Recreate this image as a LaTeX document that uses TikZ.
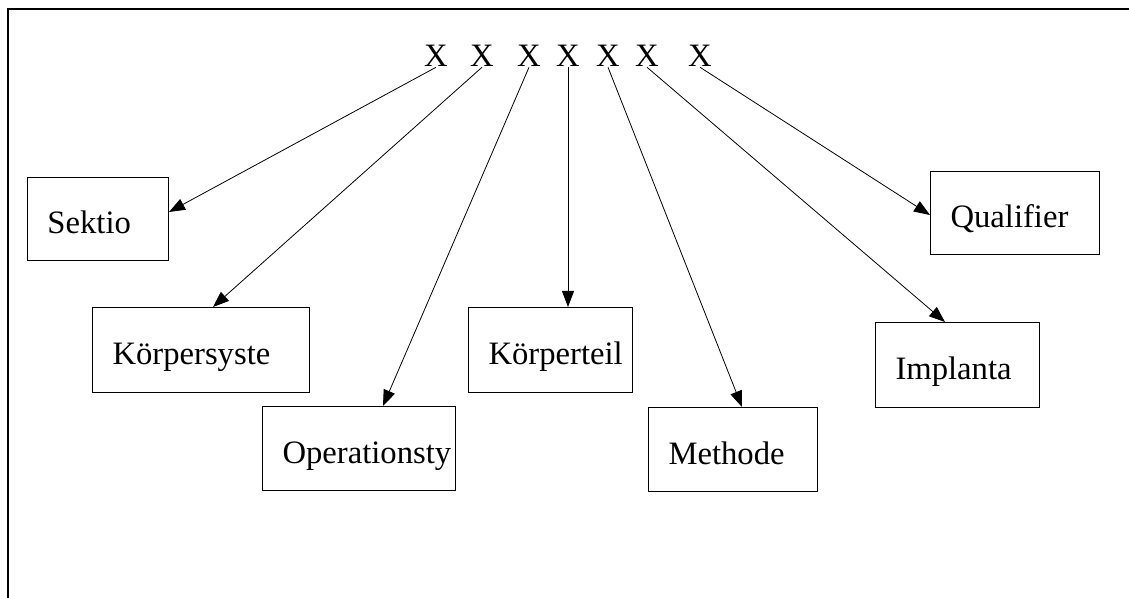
\documentclass[tikz,border=0pt]{standalone}
\usepackage{fontspec}
\setmainfont{Liberation Serif}
\usetikzlibrary{arrows.meta,calc}

\begin{document}
\begin{tikzpicture}[x=0.75pt, y=-0.75pt,
    font=\fontsize{24.5}{29}\selectfont,
    letter/.style={inner sep=0pt, anchor=base},
    field/.style={draw, line width=0.75pt, anchor=north west, inner xsep=15pt, inner ysep=0pt,
        text height=24pt, text depth=2pt, align=left},
    link/.style={line width=0.6pt, -{Triangle[length=12pt, width=9pt]}}]
    \useasboundingbox (0,0) rectangle (1129,598);
    \draw[line width=1.2pt] (8,598) -- (8,9) -- (1129,9);
    % the code letters
    \node[letter] (x1) at (436,67) {X};
    \node[letter] (x2) at (482,67) {X};
    \node[letter] (x3) at (529,67) {X};
    \node[letter] (x4) at (568,67) {X};
    \node[letter] (x5) at (608,67) {X};
    \node[letter] (x6) at (647,67) {X};
    \node[letter] (x7) at (700,67) {X};
    % the fields
    \node[field, text width=75.75pt, minimum height=62.25pt] (sek) at (27,177) {\mbox{Sektio}};
    \node[field, text width=132.75pt, minimum height=63.75pt] (ksys) at (92,307) {\mbox{Körpersyste}};
    \node[field, text width=114.75pt, minimum height=63pt] (ops) at (262,406) {\mbox{Operationsty}};
    \node[field, text width=93pt, minimum height=63.75pt] (kteil) at (468,307) {\mbox{Körperteil}};
    \node[field, text width=96.75pt, minimum height=63pt] (meth) at (648,407) {\mbox{Methode}};
    \node[field, text width=93pt, minimum height=63.75pt] (impl) at (875,322) {\mbox{Implanta}};
    \node[field, text width=96.75pt, minimum height=62.25pt] (qual) at (930,171) {\mbox{Qualifier}};
    % arrows
    \draw[link] (x1.south) -- ($(sek.north east)+(0,35)$);
    \draw[link] (x2.south) -- ($(ksys.north west)+(121,0)$);
    \draw[link] (x3.south) -- ($(ops.north west)+(121,0)$);
    \draw[link] (x4.south) -- ($(kteil.north west)+(100,0)$);
    \draw[link] (x5.south) -- ($(meth.north west)+(94,0)$);
    \draw[link] (x6.south) -- ($(impl.north west)+(70,0)$);
    \draw[link] (x7.south) -- ($(qual.north west)+(0,44)$);
\end{tikzpicture}
\end{document}
